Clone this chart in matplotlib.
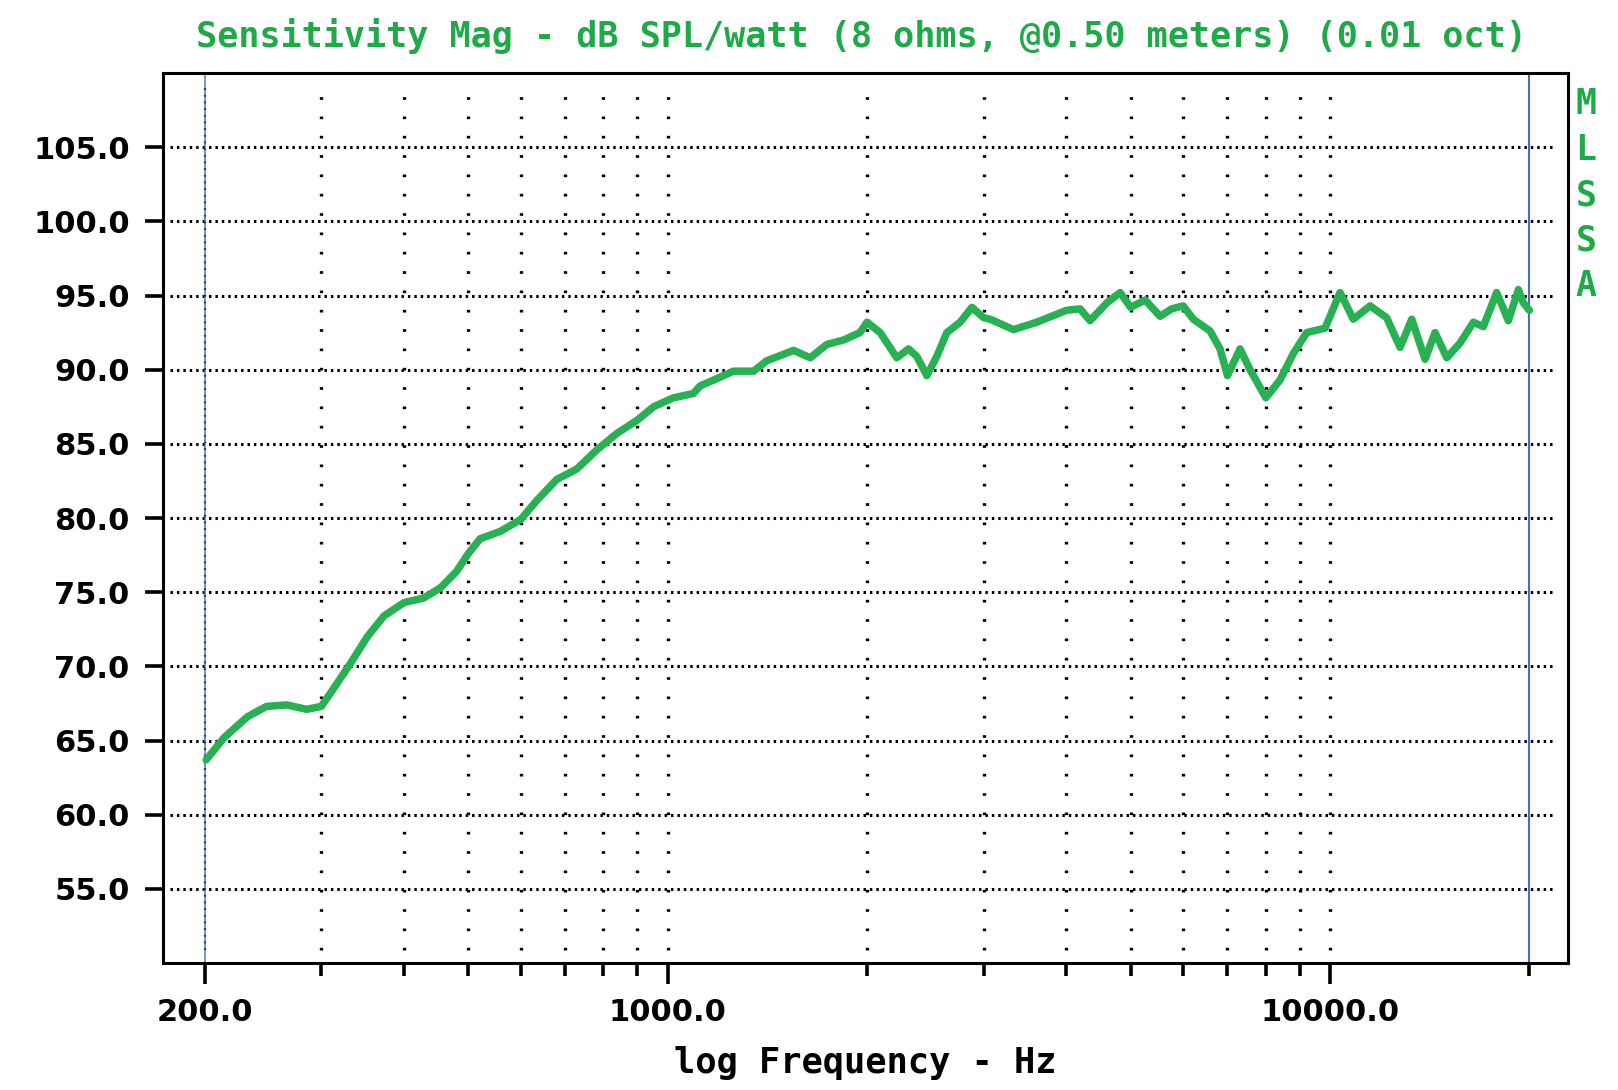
import matplotlib
matplotlib.use("Agg")
import matplotlib.pyplot as plt
from matplotlib.ticker import FixedLocator, NullFormatter, FixedFormatter

# ---- data ----
freq_hz = [201, 214, 232, 248, 266, 285, 300, 313, 332, 352, 373, 400, 428, 454,
           480, 500, 521, 559, 600, 635, 680, 729, 782, 838, 900, 952, 1020, 1094,
           1119, 1187, 1257, 1348, 1411, 1549, 1641, 1739, 1843, 1951, 2000, 2093,
           2218, 2310, 2377, 2462, 2549, 2639, 2764, 2879, 3000, 3068, 3177, 3327,
           3608, 4000, 4194, 4342, 4602, 4820, 5000, 5258, 5538, 5768, 6000, 6218,
           6591, 6823, 7000, 7314, 7572, 8000, 8403, 8804, 9222, 9828, 10354, 10845,
           11493, 12178, 12756, 13284, 13914, 14406, 15006, 15717, 16460, 17039,
           17845, 18587, 19246, 19584, 20000]
spl_db = [63.7, 65.2, 66.6, 67.3, 67.4, 67.1, 67.3, 68.5, 70.2, 72.0, 73.4, 74.3, 74.6, 75.3,
          76.4, 77.6, 78.6, 79.1, 79.9, 81.2, 82.6, 83.3, 84.6, 85.7, 86.6, 87.5, 88.1, 88.4,
          88.9, 89.4, 89.9, 89.9, 90.6, 91.3, 90.8, 91.7, 92.0, 92.5, 93.2, 92.5,
          90.8, 91.4, 90.9, 89.6, 90.9, 92.5, 93.2, 94.2, 93.5, 93.4, 93.1, 92.7,
          93.2, 94.0, 94.1, 93.3, 94.5, 95.2, 94.2, 94.7, 93.6, 94.1, 94.3, 93.4,
          92.6, 91.4, 89.6, 91.4, 90.0, 88.1, 89.3, 91.1, 92.5, 92.8, 95.2, 93.4,
          94.3, 93.5, 91.5, 93.4, 90.7, 92.5, 90.8, 91.8, 93.2, 92.9,
          95.2, 93.3, 95.4, 94.5, 94.0]

y_ticks = [55, 60, 65, 70, 75, 80, 85, 90, 95, 100, 105]
y_tick_labels = ["55.0", "60.0", "65.0", "70.0", "75.0", "80.0", "85.0", "90.0",
                 "95.0", "100.0", "105.0"]
x_major = [200, 1000, 10000]
x_major_labels = ["200.0", "1000.0", "10000.0"]
x_minor = [300, 400, 500, 600, 700, 800, 900, 2000, 3000, 4000, 5000, 6000,
           7000, 8000, 9000, 20000]
x_grid = [300, 400, 500, 600, 700, 800, 900, 1000, 2000, 3000, 4000, 5000,
          6000, 7000, 8000, 9000, 10000]
band_edges = [200, 20000]

title = "Sensitivity Mag - dB SPL/watt (8 ohms, @0.50 meters) (0.01 oct)"
xlabel = "log Frequency - Hz"
side_letters = ["M", "L", "S", "S", "A"]

GREEN_TEXT = "#1faa4a"
GREEN_LINE = "#27b152"
BLUE = "#4a6cc4"

fig = plt.figure(figsize=(16.18, 10.90), dpi=100)
ax = fig.add_axes([163 / 1618, 1 - 963 / 1090, 1405 / 1618, 890 / 1090])

ax.set_xscale("log")
ax.set_xlim(173, 22870)
ax.set_ylim(50, 110)

# grid lines
for yv in y_ticks:
    ax.axhline(yv, xmin=0.005, xmax=0.99, color="black", lw=2.2,
               linestyle=(0, (0.8, 1.3)), zorder=1)
for xv in x_grid:
    ax.axvline(xv, ymin=0.015, ymax=0.985, color="black", lw=2.4,
               linestyle=(0, (0.8, 5.0)), zorder=1)

# band edge markers
ax.axvline(band_edges[0], color=BLUE, lw=1.3, zorder=1.5, alpha=0.8)
ax.axvline(band_edges[0], ymin=0.015, ymax=0.985, color="#223366", lw=1.6,
           linestyle=(0, (0.8, 2.2)), zorder=1.6)
ax.axvline(band_edges[1], color=BLUE, lw=1.5, zorder=1.5)

# curve
ax.plot(freq_hz, spl_db, color=GREEN_LINE, lw=5.4, solid_joinstyle="round",
        solid_capstyle="round", zorder=3)

# frame
for sp in ax.spines.values():
    sp.set_linewidth(2.2)
    sp.set_color("black")

# ticks
ax.yaxis.set_major_locator(FixedLocator(y_ticks))
ax.yaxis.set_major_formatter(FixedFormatter(y_tick_labels))
ax.yaxis.set_minor_locator(FixedLocator([]))
ax.xaxis.set_major_locator(FixedLocator(x_major))
ax.xaxis.set_major_formatter(FixedFormatter(x_major_labels))
ax.xaxis.set_minor_locator(FixedLocator(x_minor))
ax.xaxis.set_minor_formatter(NullFormatter())

ax.tick_params(axis="y", which="major", direction="out", length=13, width=2.6,
               pad=11, labelsize=22, color="black")
ax.tick_params(axis="x", which="major", direction="out", length=15, width=2.6,
               pad=10, labelsize=22, color="black")
ax.tick_params(axis="x", which="minor", direction="out", length=9, width=2.6,
               color="black")
for lab in ax.get_xticklabels() + ax.get_yticklabels():
    lab.set_fontweight("bold")
    lab.set_family("DejaVu Sans")

# texts
fig.text(861 / 1618, 1 - 36 / 1090, title, ha="center", va="center",
         family="DejaVu Sans Mono", fontweight="bold", fontsize=25.3, color=GREEN_TEXT)
fig.text(865 / 1618, 1 - 1063 / 1090, xlabel, ha="center", va="center",
         family="DejaVu Sans Mono", fontweight="bold", fontsize=25.5, color="black")
for i, ch in enumerate(side_letters):
    fig.text(1586 / 1618, 1 - (104 + 45.5 * i) / 1090, ch, ha="center", va="center",
             family="DejaVu Sans Mono", fontweight="bold", fontsize=25, color=GREEN_TEXT)

fig.savefig("out.png", dpi=100, facecolor="white")
